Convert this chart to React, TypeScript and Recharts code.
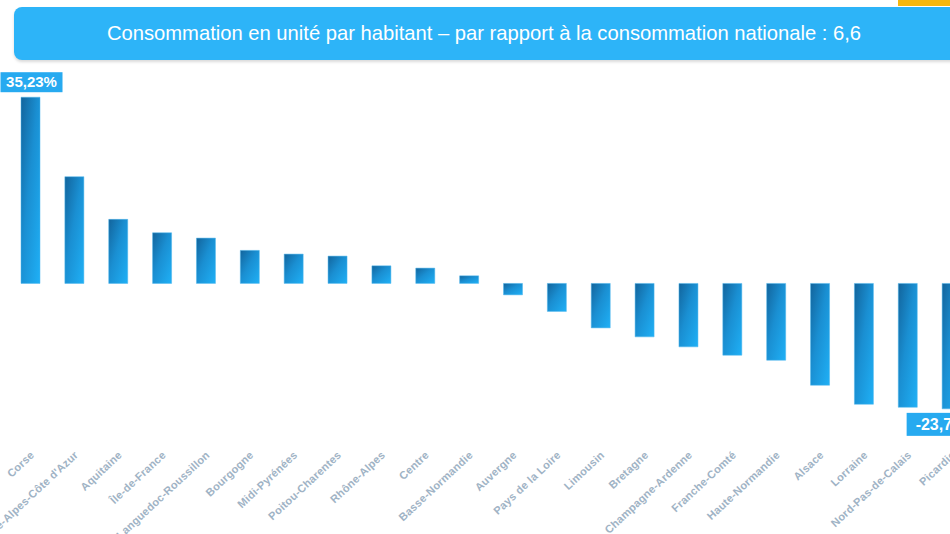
import React from "react";
import { Bar, BarChart, LabelList, XAxis, YAxis } from "recharts";

const regions = [
  "Corse",
  "Provence-Alpes-Côte d'Azur",
  "Aquitaine",
  "Île-de-France",
  "Languedoc-Roussillon",
  "Bourgogne",
  "Midi-Pyrénées",
  "Poitou-Charentes",
  "Rhône-Alpes",
  "Centre",
  "Basse-Normandie",
  "Auvergne",
  "Pays de la Loire",
  "Limousin",
  "Bretagne",
  "Champagne-Ardenne",
  "Franche-Comté",
  "Haute-Normandie",
  "Alsace",
  "Lorraine",
  "Nord-Pas-de-Calais",
  "Picardie",
];

const ecarts = [
  35.23, 20.19, 12.12, 9.58, 8.58, 6.25, 5.55, 5.17, 3.33, 2.9, 1.44, -2.16,
  -5.3, -8.41, -10.11, -12.0, -13.58, -14.53, -19.26, -22.86, -23.43, -23.73,
];

const title =
  "Consommation en unité par habitant – par rapport à la consommation nationale : 6,6";

const data = regions.map((name, i) => ({ name, value: ecarts[i] }));

const maxIndex = ecarts.indexOf(Math.max(...ecarts));
const minIndex = ecarts.indexOf(Math.min(...ecarts));

const fmt = (v: number) => v.toFixed(2).replace(".", ",") + "%";

const RegionTick = (props: any) => {
  const { x, y, payload } = props;
  return (
    <g transform={`translate(${x + 4},${y + 6})`}>
      <text
        textAnchor="end"
        transform="rotate(-43)"
        fill="#9fb3c5"
        fontSize={11}
        fontWeight={700}
        letterSpacing={0.2}
        fontFamily="Liberation Sans, Arial, sans-serif"
      >
        {payload.value}
      </text>
    </g>
  );
};

const ExtremeLabel = (props: any) => {
  const { x, y, width, height, index, value } = props;
  if (index !== maxIndex && index !== minIndex) return null;
  const cx = x + width / 2;
  const top = Math.min(y, y + height);
  const bottom = Math.max(y, y + height);
  if (index === maxIndex) {
    return (
      <g>
        <rect x={cx - 30} y={top - 25} width={62} height={20} fill="#27aaf0" />
        <text
          x={cx + 1}
          y={top - 10}
          textAnchor="middle"
          fill="#fff"
          fontSize={15}
          fontWeight={700}
          fontFamily="Liberation Sans, Arial, sans-serif"
        >
          {fmt(value)}
        </text>
      </g>
    );
  }
  return (
    <g>
      <rect x={cx - 45} y={bottom + 4} width={90} height={23} fill="#27aaf0" />
      <text
        x={cx - 36}
        y={bottom + 21}
        textAnchor="start"
        fill="#fff"
        fontSize={16}
        fontWeight={700}
        fontFamily="Liberation Sans, Arial, sans-serif"
      >
        {fmt(value)}
      </text>
    </g>
  );
};

export default function App() {
  return (
    <div
      style={{
        position: "fixed",
        left: 0,
        top: 0,
        width: 950,
        height: 534,
        overflow: "hidden",
        background: "#fff",
        fontFamily: "Liberation Sans, Arial, sans-serif",
      }}
    >
      <div
        style={{
          position: "absolute",
          left: 898,
          top: 0,
          width: 60,
          height: 6,
          background: "#f6b70f",
        }}
      />
      <div
        style={{
          position: "absolute",
          left: 14,
          top: 7,
          width: 950,
          height: 53,
          borderRadius: 8,
          background: "#2db4f8",
          boxShadow: "0 2px 3px rgba(0,0,0,0.15)",
        }}
      />
      <div
        style={{
          position: "absolute",
          left: 14,
          top: 7,
          width: 940,
          height: 53,
          lineHeight: "53px",
          textAlign: "center",
          color: "#fff",
          fontSize: 20.2,
        }}
      >
        {title}
      </div>
      <div style={{ position: "absolute", left: 0, top: 0 }}>
        <BarChart
          width={1000}
          height={534}
          data={data}
          margin={{ top: 72, right: 26, left: 9, bottom: 12 }}
          barCategoryGap={0}
        >
          <defs>
            <linearGradient id="barGrad" x1="0" y1="0" x2="1" y2="1">
              <stop offset="0%" stopColor="#12649c" />
              <stop offset="45%" stopColor="#1a8fd2" />
              <stop offset="100%" stopColor="#1fb0f6" />
            </linearGradient>
          </defs>
          <XAxis
            dataKey="name"
            interval={0}
            axisLine={false}
            tickLine={false}
            height={80}
            tick={<RegionTick />}
          />
          <YAxis hide domain={[-30, 40]} />
          <Bar
            dataKey="value"
            barSize={19}
            fill="url(#barGrad)"
            stroke="#4fb6ec"
            strokeWidth={0.5}
            isAnimationActive={false}
          >
            <LabelList dataKey="value" content={<ExtremeLabel />} />
          </Bar>
        </BarChart>
      </div>
    </div>
  );
}
